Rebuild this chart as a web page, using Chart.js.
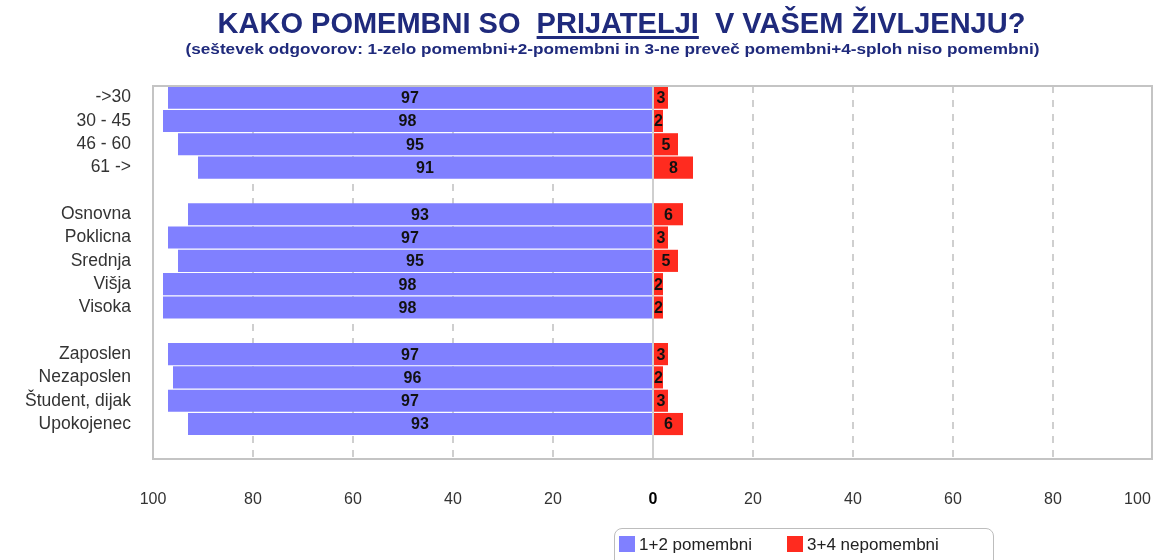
<!DOCTYPE html>
<html>
<head>
<meta charset="utf-8">
<script src="https://cdn.jsdelivr.net/npm/chart.js@4.4.1/dist/chart.umd.min.js"></script>
<style>
  html, body { margin: 0; padding: 0; background: #fff; }
  #wrap { position: relative; width: 1153px; height: 560px; overflow: hidden; font-family: "Liberation Sans", Arial, sans-serif; }
  #chart { position: absolute; left: 0; top: 0; }
  .title { position: absolute; left: 0; width: 1153px; text-align: center; color: #1f2a7c; font-weight: bold; white-space: pre; line-height: 1; }
  #t1 { top: 9px; font-size: 29px; transform: translateX(45px); }
  #t1 u { text-decoration-thickness: 2.5px; text-underline-offset: 3px; }
  #t2 { top: 42px; font-size: 14px; transform: translateX(36px) scaleX(1.225); }
  #legend { position: absolute; left: 614px; top: 528px; width: 380px; height: 40px; border: 1.5px solid #bdbdbd; border-radius: 8px; box-sizing: border-box; font-size: 17px; color: #222; }
  #legend span.sw { display: inline-block; width: 16px; height: 16px; vertical-align: -2px; margin-right: 4px; }
  #legend .item { position: absolute; top: 6px; }
</style>
</head>
<body>
<div id="wrap">
  <canvas id="chart" width="1153" height="560"></canvas>
  <div class="title" id="t1">KAKO POMEMBNI SO  <u>PRIJATELJI</u>  V VAŠEM ŽIVLJENJU?</div>
  <div class="title" id="t2">(seštevek odgovorov: 1-zelo pomembni+2-pomembni in 3-ne preveč pomembni+4-sploh niso pomembni)</div>
  <div id="legend">
    <div class="item" style="left:4px"><span class="sw" style="background:#8080ff"></span>1+2 pomembni</div>
    <div class="item" style="left:172px"><span class="sw" style="background:#ff2b1f"></span>3+4 nepomembni</div>
  </div>
</div>
<script>
// kategorije (prazne vrstice ločijo skupine)
const categories = [
  '->30', '30 - 45', '46 - 60', '61 ->', '',
  'Osnovna', 'Poklicna', 'Srednja', 'Višja', 'Visoka', '',
  'Zaposlen', 'Nezaposlen', 'Študent, dijak', 'Upokojenec', ''
];
const pomembni = [97, 98, 95, 91, null, 93, 97, 95, 98, 98, null, 97, 96, 97, 93, null];
const nepomembni = [3, 2, 5, 8, null, 6, 3, 5, 2, 2, null, 3, 2, 3, 6, null];
const xTicks = [-100, -80, -60, -40, -20, 0, 20, 40, 60, 80, 100];

const isZero = ctx => !!(ctx && ctx.tick && ctx.tick.value === 0);

const barLabels = {
  id: 'barLabels',
  afterDatasetsDraw(chart) {
    const ctx = chart.ctx;
    ctx.save();
    ctx.font = 'bold 16px "Liberation Sans", Arial, sans-serif';
    ctx.fillStyle = '#111';
    ctx.textAlign = 'center';
    ctx.textBaseline = 'middle';
    chart.data.datasets.forEach((ds, di) => {
      const meta = chart.getDatasetMeta(di);
      meta.data.forEach((el, i) => {
        const v = ds.data[i];
        if (v == null) return;
        ctx.fillText(Math.abs(v), (el.x + el.base) / 2, el.y + 1);
      });
    });
    ctx.restore();
  }
};

const plotBorder = {
  id: 'plotBorder',
  afterDraw(chart) {
    const a = chart.chartArea;
    const ctx = chart.ctx;
    ctx.save();
    ctx.strokeStyle = '#c4c4c4';
    ctx.lineWidth = 2;
    ctx.strokeRect(a.left, a.top, a.right - a.left - 1, a.bottom - a.top);
    ctx.restore();
  }
};

new Chart(document.getElementById('chart'), {
  type: 'bar',
  data: {
    labels: categories,
    datasets: [{
      label: '1+2 pomembni',
      data: pomembni.map(v => v == null ? null : -v),
      backgroundColor: '#8080ff',
      barPercentage: 0.95,
      categoryPercentage: 1
    }, {
      label: '3+4 nepomembni',
      data: nepomembni,
      backgroundColor: '#ff2b1f',
      barPercentage: 0.95,
      categoryPercentage: 1
    }]
  },
  options: {
    indexAxis: 'y',
    responsive: false,
    animation: false,
    layout: { padding: { top: 86, right: 0, left: 0, bottom: 0 } },
    plugins: { legend: { display: false }, tooltip: { enabled: false } },
    scales: {
      x: {
        stacked: true,
        min: -100,
        max: 100,
        afterBuildTicks(scale) { scale.ticks = xTicks.map(v => ({ value: v })); },
        afterFit(scale) {
          scale.height = 101;
          scale.paddingLeft = 0;
          scale.paddingRight = 0;
        },
        grid: {
          color: '#cfcfcf',
          lineWidth: 2,
          drawTicks: false
        },
        border: {
          display: false,
          dash: ctx => isZero(ctx) ? [] : [7, 7]
        },
        ticks: {
          padding: 31,
          color: ctx => isZero(ctx) ? '#000' : '#333',
          font: ctx => ({ family: '"Liberation Sans", Arial, sans-serif', size: 16, weight: isZero(ctx) ? 'bold' : 'normal' }),
          // zadnja oznaka je v izvirniku pomaknjena v notranjost
          callback: v => v === 100 ? '100\u00a0\u00a0\u00a0\u00a0\u00a0\u00a0\u00a0' : Math.abs(v)
        }
      },
      y: {
        stacked: true,
        afterFit(scale) { scale.width = 153; },
        grid: { display: false, drawTicks: false },
        border: { display: false },
        ticks: {
          autoSkip: false,
          padding: 22,
          color: '#333',
          font: { family: '"Liberation Sans", Arial, sans-serif', size: 17.5 }
        }
      }
    }
  },
  plugins: [barLabels, plotBorder]
});
</script>
</body>
</html>
